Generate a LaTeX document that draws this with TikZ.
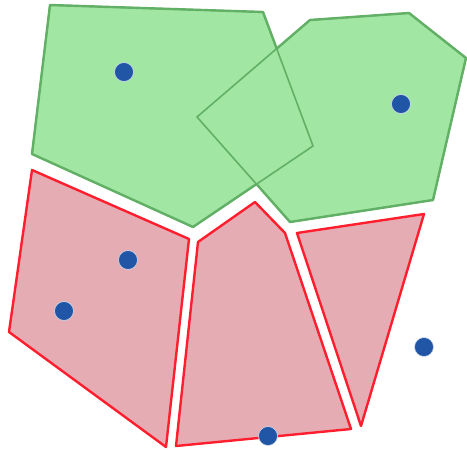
\documentclass[tikz,border=0pt]{standalone}
\begin{document}
\begin{tikzpicture}[x=1pt,y=-1pt,
  greenfill/.style={fill=gfill},
  greenedge/.style={draw=gline,line width=2.4pt,line join=round},
  greeninner/.style={draw=gline,line width=1.6pt,line join=round},
  redcell/.style={fill=rfill,draw=rline,line width=2.4pt,line join=round},
  site/.style={circle,fill=bdot,draw=white!80!bdot,line width=0.6pt,minimum size=19pt,inner sep=0pt}]
\definecolor{gfill}{RGB}{161,230,163}
\definecolor{gline}{RGB}{98,176,102}
\definecolor{rfill}{RGB}{229,172,180}
\definecolor{rline}{RGB}{255,30,45}
\definecolor{bdot}{RGB}{33,86,166}
\useasboundingbox (0,0) rectangle (467,453);
% green cells (overlapping)
\fill[greenfill] (50,5) -- (263,12) -- (313,146) -- (193,227) -- (32,154) -- cycle;
\fill[greenfill] (197,117) -- (310,20) -- (409,13) -- (466,58) -- (433,200) -- (290,222) -- cycle;
\draw[greeninner] (50,5) -- (263,12) -- (313,146) -- (193,227) -- (32,154) -- cycle;
\draw[greeninner] (197,117) -- (310,20) -- (409,13) -- (466,58) -- (433,200) -- (290,222) -- cycle;
\draw[greenedge] (50,5) -- (263,12) -- (276.7,48.6) -- (310,20) -- (409,13) -- (466,58) -- (433,200) -- (290,222) -- (256.5,184.1) -- (193,227) -- (32,154) -- cycle;
% red cells
\draw[redcell] (32,170) -- (189,239) -- (166,447) -- (9,332) -- cycle;
\draw[redcell] (255,202) -- (285,233) -- (351,429) -- (176,446) -- (198,242) -- cycle;
\draw[redcell] (297,233) -- (424,214) -- (361,426) -- cycle;
% sites
\node[site] (s1) at (124,72) {};
\node[site] (s2) at (401,104) {};
\node[site] (s3) at (128,260) {};
\node[site] (s4) at (64,311) {};
\node[site] (s5) at (424,347) {};
\node[site] (s6) at (268,436) {};
\end{tikzpicture}
\end{document}
